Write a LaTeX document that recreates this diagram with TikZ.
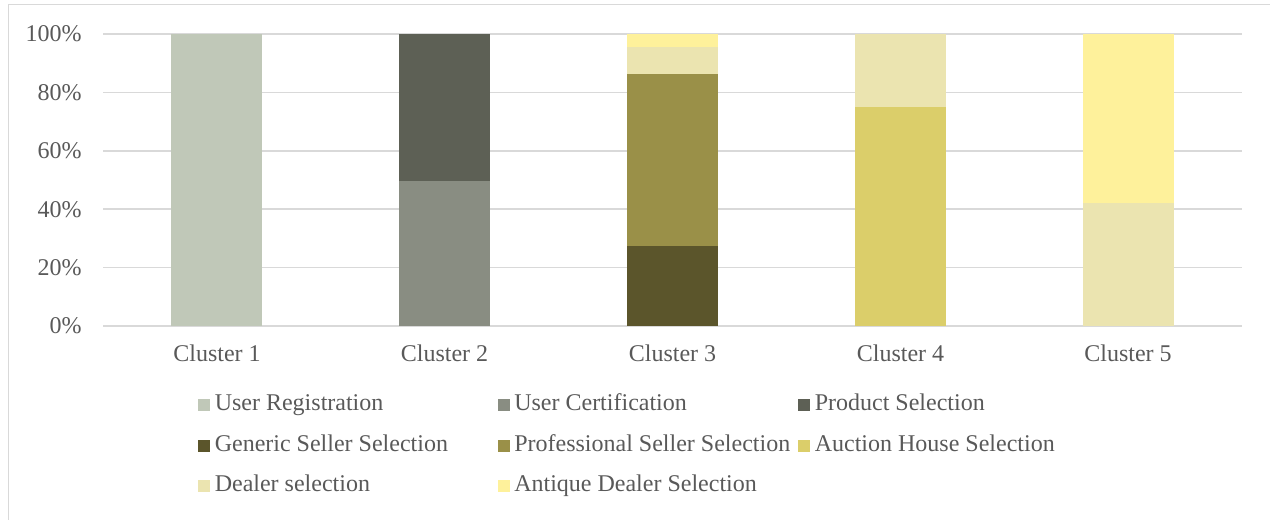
\documentclass[tikz,border=0pt]{standalone}
\usepackage{fontspec}
\setmainfont{Liberation Serif}
\definecolor{txtgray}{HTML}{595959}
\definecolor{gridgray}{HTML}{D9D9D9}
\definecolor{cReg}{HTML}{C0C8B8}
\definecolor{cCert}{HTML}{898D82}
\definecolor{cProd}{HTML}{5D6055}
\definecolor{cGen}{HTML}{5B552B}
\definecolor{cProf}{HTML}{9A9048}
\definecolor{cAuc}{HTML}{DBCE6A}
\definecolor{cDeal}{HTML}{EBE4B0}
\definecolor{cAnt}{HTML}{FEF19B}
\newcommand{\barseg}[5]{\fill[#1] (#2,{326-2.92*#3}) rectangle ({#2+91},{326-2.92*#4});}
\newcommand{\legitem}[5]{%
  \node[legsq,fill=#1] (#2sq) at (#3,#4) {};
  \node[lbl,anchor=west] (#2) at ({#3+10.5},#4) {\strut #5};}
\begin{document}
\begin{tikzpicture}[x=0.75pt,y=-0.75pt,
  lbl/.style={text=txtgray,font=\fontsize{18}{21}\selectfont,inner sep=0pt},
  grid/.style={draw=gridgray,line width=1.1pt},
  legsq/.style={minimum size=9pt,inner sep=0pt,draw=none}]
\useasboundingbox (0,0) rectangle (1270,520);
% frame
\draw[gridgray,line width=1.1pt] (8.5,524) -- (8.5,4.5) -- (1274,4.5);
% gridlines and y labels
\foreach \v/\t in {0/0\%,20/20\%,40/40\%,60/60\%,80/80\%,100/100\%}{
  \draw[grid] (103,{326-2.92*\v}) -- (1242,{326-2.92*\v});
  \node[lbl,anchor=east] (y\v) at (82,{326-2.92*\v}) {\t};
}
% Cluster 1
\barseg{cReg}{171}{0}{100}{}
% Cluster 2
\barseg{cCert}{399}{0}{49.7}{}
\barseg{cProd}{399}{49.7}{100}{}
% Cluster 3
\barseg{cGen}{627}{0}{27.27}{}
\barseg{cProf}{627}{27.27}{86.36}{}
\barseg{cDeal}{627}{86.36}{95.45}{}
\barseg{cAnt}{627}{95.45}{100}{}
% Cluster 4
\barseg{cAuc}{855}{0}{75}{}
\barseg{cDeal}{855}{75}{100}{}
% Cluster 5
\barseg{cDeal}{1082.5}{0}{42.1}{}
\barseg{cAnt}{1082.5}{42.1}{100}{}
% x labels
\node[lbl] (c1) at (217,353) {Cluster 1};
\node[lbl] (c2) at (444.5,353) {Cluster 2};
\node[lbl] (c3) at (672.5,353) {Cluster 3};
\node[lbl] (c4) at (900.5,353) {Cluster 4};
\node[lbl] (c5) at (1128,353) {Cluster 5};
% legend
\legitem{cReg}{lreg}{204}{405}{User Registration}
\legitem{cCert}{lcert}{503.5}{405}{User Certification}
\legitem{cProd}{lprod}{804}{405}{Product Selection}
\legitem{cGen}{lgen}{204}{445.5}{Generic Seller Selection}
\legitem{cProf}{lprof}{503.5}{445.5}{Professional Seller Selection}
\legitem{cAuc}{lauc}{804}{445.5}{Auction House Selection}
\legitem{cDeal}{ldeal}{204}{486}{Dealer selection}
\legitem{cAnt}{lant}{503.5}{486}{Antique Dealer Selection}
\end{tikzpicture}
\end{document}
